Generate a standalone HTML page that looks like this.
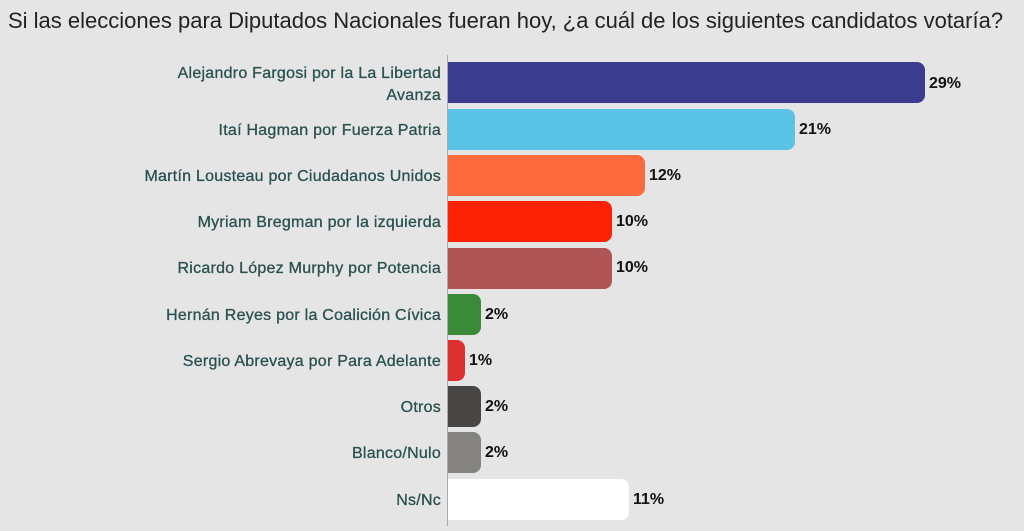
<!DOCTYPE html>
<html><head><meta charset="utf-8"><style>
body{margin:0;width:1024px;height:531px;background:#e5e5e5;font-family:"Liberation Sans",sans-serif;position:relative;overflow:hidden}
.t{position:absolute;left:8px;top:8px;font-size:22px;color:#222;white-space:nowrap}
.ax{position:absolute;left:447px;top:55px;width:1px;height:471px;background:#aaa}
.l{position:absolute;right:583px;width:440px;text-align:right;font-size:16px;letter-spacing:0.25px;color:#2a5050;line-height:22px;-webkit-text-stroke:0.3px #2a5050}
.b{position:absolute;left:448px;height:41px;border-radius:0 8px 8px 0}
.v{position:absolute;font-size:16px;color:#111;font-weight:bold}
</style></head><body>
<div class="t">Si las elecciones para Diputados Nacionales fueran hoy, ¿a cuál de los siguientes candidatos votaría?</div>
<div class="ax"></div>

<div class="l" style="top:63px">Alejandro Fargosi por la La Libertad<br>Avanza</div>
<div class="b" style="top:62px;width:477px;background:#3b3b8f"></div><div class="v" style="left:929px;top:75px">29%</div>

<div class="l" style="top:120px">Itaí Hagman por Fuerza Patria</div>
<div class="b" style="top:109px;width:347px;background:#5bc4e6"></div><div class="v" style="left:799px;top:121px">21%</div>

<div class="l" style="top:166px">Martín Lousteau por Ciudadanos Unidos</div>
<div class="b" style="top:155px;width:197px;background:#fd6a3b"></div><div class="v" style="left:649px;top:167px">12%</div>

<div class="l" style="top:212px">Myriam Bregman por la izquierda</div>
<div class="b" style="top:201px;width:164px;background:#fe2205"></div><div class="v" style="left:616px;top:213px">10%</div>

<div class="l" style="top:258px">Ricardo López Murphy por Potencia</div>
<div class="b" style="top:248px;width:164px;background:#b05555"></div><div class="v" style="left:616px;top:259px">10%</div>

<div class="l" style="top:305px">Hernán Reyes por la Coalición Cívica</div>
<div class="b" style="top:294px;width:33px;background:#3a8a3a"></div><div class="v" style="left:485px;top:306px">2%</div>

<div class="l" style="top:351px">Sergio Abrevaya por Para Adelante</div>
<div class="b" style="top:340px;width:17px;background:#dc2f2f"></div><div class="v" style="left:469px;top:352px">1%</div>

<div class="l" style="top:397px">Otros</div>
<div class="b" style="top:386px;width:33px;background:#484644"></div><div class="v" style="left:485px;top:398px">2%</div>

<div class="l" style="top:443px">Blanco/Nulo</div>
<div class="b" style="top:432px;width:33px;background:#858380"></div><div class="v" style="left:485px;top:444px">2%</div>

<div class="l" style="top:490px">Ns/Nc</div>
<div class="b" style="top:479px;width:181px;background:#ffffff"></div><div class="v" style="left:633px;top:491px">11%</div>
</body></html>
